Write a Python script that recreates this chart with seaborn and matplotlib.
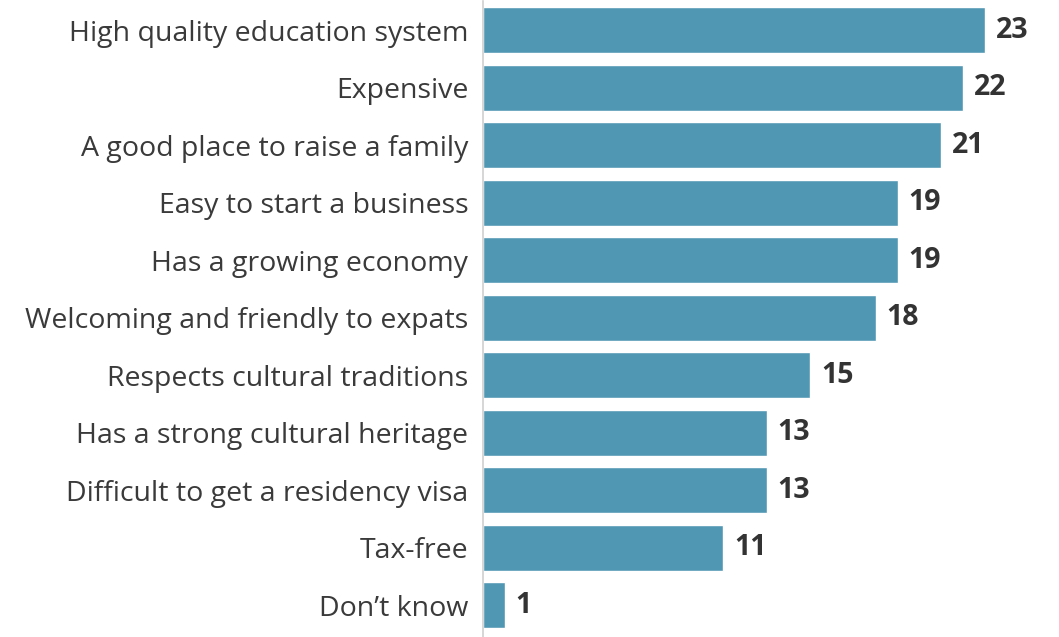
import matplotlib
matplotlib.use("Agg")
import matplotlib.pyplot as plt
import seaborn as sns
import pandas as pd

categories = [
    "High quality education system",
    "Expensive",
    "A good place to raise a family",
    "Easy to start a business",
    "Has a growing economy",
    "Welcoming and friendly to expats",
    "Respects cultural traditions",
    "Has a strong cultural heritage",
    "Difficult to get a residency visa",
    "Tax-free",
    "Don\u2019t know",
]
values = [23, 22, 21, 19, 19, 18, 15, 13, 13, 11, 1]

sns.set_theme(style="white")
plt.rcParams["font.family"] = ["Open Sans", "DejaVu Sans"]

df = pd.DataFrame({"label": categories, "value": values})

fig = plt.figure(figsize=(10.59, 6.37), dpi=100)
ax = fig.add_axes([0.456, 0.0, 0.544, 0.998])
sns.barplot(data=df, x="value", y="label", color="#5097b4", saturation=1,
            width=0.8, ax=ax, orient="h")

ax.set_xlim(0, 26.4)
ax.set_ylim(10.55, -0.5)
ax.set_xlabel("")
ax.set_ylabel("")
ax.set_xticks([])
for side in ["top", "right", "bottom"]:
    ax.spines[side].set_visible(False)
ax.spines["left"].set_color("#d0d0d0")
ax.spines["left"].set_linewidth(1.2)
ax.tick_params(axis="y", length=0, pad=10.5, labelsize=20.5, labelcolor="#3a3a3a")

for i, v in enumerate(values):
    ax.text(v + 0.5, i, f"{v}", va="center", ha="left", fontsize=20.5,
            fontweight="bold", color="#333333")

fig.savefig("out.png", dpi=100)
